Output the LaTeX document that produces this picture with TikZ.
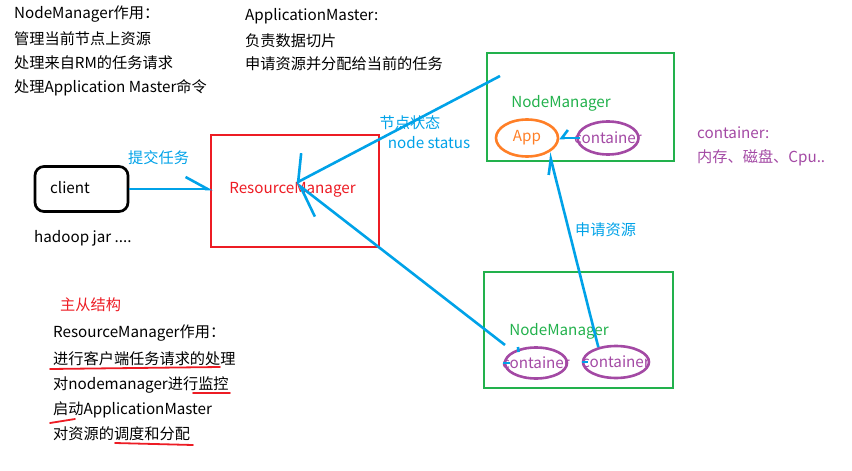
\documentclass[tikz,border=0pt]{standalone}
\usepackage{fontspec}
\setmainfont{Noto Sans CJK SC}
\usetikzlibrary{arrows.meta,shapes.geometric}
\definecolor{paintblue}{RGB}{0,162,232}
\definecolor{paintred}{RGB}{237,28,36}
\definecolor{paintgreen}{RGB}{34,177,76}
\definecolor{paintorange}{RGB}{255,127,39}
\definecolor{paintpurple}{RGB}{163,73,164}
\begin{document}
\begin{tikzpicture}[x=1pt, y=-1pt,
  every node/.style={font=\fontsize{15.2}{17}\selectfont, inner sep=0pt},
  box/.style={draw, line width=2.7pt},
  blob/.style={draw, ellipse, line width=2.6pt},
  flow/.style={draw=paintblue, line width=2.6pt},
  note/.style={anchor=west},
  redline/.style={draw=paintred, line width=1.8pt, line cap=round}]
  \useasboundingbox (0,0) rectangle (852,471);
  % notes on top
  \node[note] (nmhead) at (14,14) {NodeManager作用：};
  \node[note] (nmline1) at (14,38.5) {管理当前节点上资源};
  \node[note] (nmline2) at (14,63) {处理来自RM的任务请求};
  \node[note] (nmline3) at (14,87.5) {处理Application Master命令};
  \node[note] (amhead) at (245,16) {ApplicationMaster:};
  \node[note] (amline1) at (245,41) {负责数据切片};
  \node[note] (amline2) at (245,64) {申请资源并分配给当前的任务};
  % client and resource manager
  \node[box, rounded corners=9pt, minimum width=93pt, minimum height=45pt] (client) at (81.5,189) {};
  \node[note] (clienttxt) at (50,188) {client};
  \node[note] (jar) at (34,238) {hadoop jar ....};
  \node[box, draw=paintred, minimum width=168pt, minimum height=112pt] (rm) at (295,191) {};
  \node[text=paintred] (rmtxt) at (292.5,190) {ResourceManager};
  \coordinate (rmhub) at (296,183);
  % node managers
  \node[box, draw=paintgreen, minimum width=187pt, minimum height=108pt] (nmtop) at (580.5,107) {};
  \node[text=paintgreen] (nmtoptxt) at (561,103) {NodeManager};
  \node[blob, draw=paintorange, minimum width=62pt, minimum height=37pt,
    label={[text=paintorange]center:App}] (app) at (527,138) {};
  \node[blob, draw=paintpurple, minimum width=61pt, minimum height=33pt,
    label={[text=paintpurple]center:container}] (cont1) at (608,138) {};
  \node[box, draw=paintgreen, minimum width=189pt, minimum height=116pt] (nmbot) at (578.5,330) {};
  \node[text=paintgreen] (nmbottxt) at (559,331) {NodeManager};
  \node[blob, draw=paintpurple, minimum width=62pt, minimum height=31pt,
    label={[text=paintpurple]center:container}] (cont2) at (536,363) {};
  \node[blob, draw=paintpurple, minimum width=66pt, minimum height=32pt,
    label={[text=paintpurple]center:container}] (cont3) at (616,362) {};
  \coordinate (nmout) at (500,76);
  \coordinate (contout) at (505,345);
  % connectors
  \draw[flow, -{Straight Barb[length=22pt, width=24pt, harpoon]}] (client.east) -- ([xshift=3pt]client.east -| rm.west);
  \draw[flow, -{Straight Barb[length=16pt, width=48pt, harpoon, swap]}] (nmout) -- (rmhub);
  \draw[flow, -{Straight Barb[length=30pt, width=30pt, harpoon]}] (contout) -- (rmhub);
  \draw[flow, -{Straight Barb[length=6pt, width=16pt, harpoon, swap]}] ([xshift=4pt]cont1.west) -- (app.east);
  \draw[flow, -{Straight Barb[length=15pt, width=12pt, harpoon]}] (cont3.140) -- (app.-33);
  \draw[flow] (582,362) -- (588,362);
  \draw[flow] (503,363) -- (510,363);
  \draw[flow] (518,347) -- (518.5,352);
  % connector labels
  \node[note, text=paintblue] (submit) at (128,158) {提交任务};
  \node[text=paintblue] (statecn) at (410,123) {节点状态};
  \node[text=paintblue] (stateen) at (429,143) {node status};
  \node[note, text=paintblue] (apply) at (575,230) {申请资源};
  \node[note, text=paintpurple] (conthead) at (697,133) {container:};
  \node[note, text=paintpurple] (contline) at (697,158) {内存、磁盘、Cpu..};
  % notes below
  \node[note, text=paintred] (master) at (60,305) {主从结构};
  \node[note] (rmhead) at (53,333) {ResourceManager作用：};
  \node[note] (rmline1) at (53,359) {进行客户端任务请求的处理};
  \node[note] (rmline2) at (53,385) {对nodemanager进行监控};
  \node[note] (rmline3) at (53,410) {启动ApplicationMaster};
  \node[note] (rmline4) at (53,434) {对资源的调度和分配};
  \draw[redline] (50,369) -- (220,367);
  \draw[redline] (193,393) -- (230,393);
  \draw[redline] (50,423) -- (75,419);
  \draw[redline] (115,443) -- (193,445);
\end{tikzpicture}
\end{document}
